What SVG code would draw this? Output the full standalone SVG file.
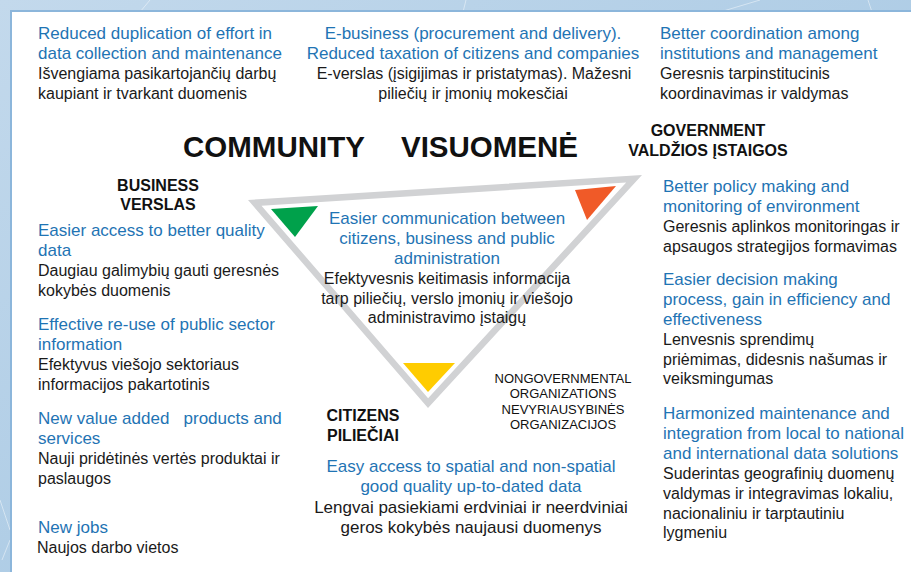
<svg xmlns="http://www.w3.org/2000/svg" width="911" height="572" viewBox="0 0 911 572">
<defs>
<linearGradient id="bg" x1="0" y1="0" x2="1" y2="1">
<stop offset="0" stop-color="#c3d9ec"/>
<stop offset="1" stop-color="#9dc2e0"/>
</linearGradient>
<style>
text{font-family:"Liberation Sans",Arial,Helvetica,sans-serif}
.b{font-size:17px;fill:#1f74b4}
.k{font-size:16px;fill:#1a1a1a}
.k17{font-size:17px;fill:#1a1a1a}
.h{font-size:16px;font-weight:bold;fill:#111}
.n{font-size:13px;fill:#111}
.c{text-anchor:middle}
.deco{stroke:#ffffff;stroke-opacity:0.45;stroke-width:1;fill:none}
</style>
</defs>
<g id="background">
<rect x="0" y="0" width="911" height="572" fill="url(#bg)"/>
<path class="deco" d="M140,12 L150,0 M463,12 L466,0 M720,12 L760,0 M872,12 L868,0 M0,500 L10,530 M2,560 L10,540"/>
<rect x="11" y="11" width="910" height="570" fill="#ffffff" stroke="#8cb6db" stroke-width="2"/>
</g>
<g id="triangle">
<path d="M248,200 L642,175 L428,408 Z M261.5,205.7 L626.2,182.5 L428.1,398.2 Z" fill="#d1d2d4" fill-rule="evenodd"/>
<polygon points="271,209 318,206 295,237" fill="#00a14b"/>
<polygon points="575,190 616,186 587,220" fill="#f05a28"/>
<polygon points="403,363 455,363 428,392" fill="#ffcc00"/>
</g>
<g id="title">
<text x="183" y="157" style="font-size:29.5px;font-weight:bold;fill:#111">COMMUNITY</text>
<text x="401" y="157" style="font-size:29.5px;font-weight:bold;fill:#111">VISUOMENĖ</text>
</g>
<g id="label-government">
<text class="h c" x="708" y="136">GOVERNMENT</text>
<text class="h c" x="708" y="156">VALDŽIOS ĮSTAIGOS</text>
</g>
<g id="label-business">
<text class="h c" x="158" y="191">BUSINESS</text>
<text class="h c" x="158" y="210">VERSLAS</text>
</g>
<g id="label-citizens">
<text class="h c" x="363" y="421">CITIZENS</text>
<text class="h c" x="363" y="441">PILIEČIAI</text>
</g>
<g id="label-ngo">
<text class="n c" x="563" y="383">NONGOVERNMENTAL</text>
<text class="n c" x="563" y="398">ORGANIZATIONS</text>
<text class="n c" x="563" y="413.5">NEVYRIAUSYBINĖS</text>
<text class="n c" x="563" y="429">ORGANIZACIJOS</text>
</g>
<g id="top-left">
<text class="b" x="38" y="39">Reduced duplication of effort in</text>
<text class="b" x="38" y="59">data collection and maintenance</text>
<text class="k" x="38" y="79">Išvengiama pasikartojančių darbų</text>
<text class="k" x="38" y="99">kaupiant ir tvarkant duomenis</text>
</g>
<g id="top-center">
<text class="b c" x="473" y="39">E-business (procurement and delivery).</text>
<text class="b c" x="473" y="59">Reduced taxation of citizens and companies</text>
<text class="k c" x="474" y="79">E-verslas (įsigijimas ir pristatymas). Mažesni</text>
<text class="k c" x="473" y="99">piliečių ir įmonių mokesčiai</text>
</g>
<g id="top-right">
<text class="b" x="660" y="39">Better coordination among</text>
<text class="b" x="660" y="59">institutions and management</text>
<text class="k" x="660" y="79">Geresnis tarpinstitucinis</text>
<text class="k" x="660" y="99">koordinavimas ir valdymas</text>
</g>
<g id="center">
<text class="b c" x="447" y="224">Easier communication between</text>
<text class="b c" x="447" y="244">citizens, business and public</text>
<text class="b c" x="447" y="264">administration</text>
<text class="k c" x="447" y="284">Efektyvesnis keitimasis informacija</text>
<text class="k c" x="447" y="304">tarp piliečių, verslo įmonių ir viešojo</text>
<text class="k c" x="447" y="323">administravimo įstaigų</text>
</g>
<g id="business-1">
<text class="b" x="38" y="236">Easier access to better quality</text>
<text class="b" x="38" y="256">data</text>
<text class="k" x="38" y="276">Daugiau galimybių gauti geresnės</text>
<text class="k" x="38" y="296">kokybės duomenis</text>
</g>
<g id="business-2">
<text class="b" x="38" y="330">Effective re-use of public sector</text>
<text class="b" x="38" y="350">information</text>
<text class="k" x="38" y="370">Efektyvus viešojo sektoriaus</text>
<text class="k" x="38" y="390">informacijos pakartotinis</text>
</g>
<g id="business-3">
<text class="b" x="38" y="424" style="white-space:pre" xml:space="preserve">New value added   products and</text>
<text class="b" x="38" y="444">services</text>
<text class="k" x="38" y="464">Nauji pridėtinės vertės produktai ir</text>
<text class="k" x="38" y="484">paslaugos</text>
</g>
<g id="business-4">
<text class="b" x="38" y="533">New jobs</text>
<text class="k" x="37" y="553">Naujos darbo vietos</text>
</g>
<g id="government-1">
<text class="b" x="663" y="192">Better policy making and</text>
<text class="b" x="663" y="212">monitoring of environment</text>
<text class="k" x="663" y="232">Geresnis aplinkos monitoringas ir</text>
<text class="k" x="663" y="252">apsaugos strategijos formavimas</text>
</g>
<g id="government-2">
<text class="b" x="663" y="285">Easier decision making</text>
<text class="b" x="663" y="305">process, gain in efficiency and</text>
<text class="b" x="663" y="325">effectiveness</text>
<text class="k" x="663" y="345">Lenvesnis sprendimų</text>
<text class="k" x="663" y="365">priėmimas, didesnis našumas ir</text>
<text class="k" x="663" y="384">veiksmingumas</text>
</g>
<g id="government-3">
<text class="b" x="663" y="419">Harmonized maintenance and</text>
<text class="b" x="663" y="439">integration from local to national</text>
<text class="b" x="663" y="459">and international data solutions</text>
<text class="k" x="663" y="479">Suderintas geografinių duomenų</text>
<text class="k" x="663" y="499">valdymas ir integravimas lokaliu,</text>
<text class="k" x="663" y="519">nacionaliniu ir tarptautiniu</text>
<text class="k" x="663" y="538">lygmeniu</text>
</g>
<g id="citizens-1">
<text class="b c" x="471" y="472">Easy access to spatial and non-spatial</text>
<text class="b c" x="471" y="492">good quality up-to-dated data</text>
<text class="k17 c" x="471" y="513">Lengvai pasiekiami erdviniai ir neerdviniai</text>
<text class="k17 c" x="471" y="533">geros kokybės naujausi duomenys</text>
</g>
<g id="connectors"></g>
</svg>
